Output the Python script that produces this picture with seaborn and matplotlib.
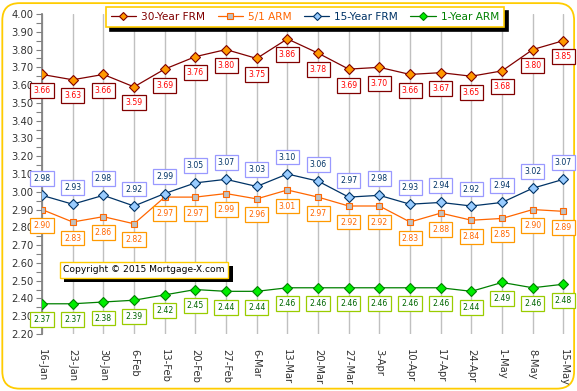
import matplotlib
matplotlib.use('Agg')
import matplotlib.pyplot as plt
import matplotlib.patheffects as pe
from matplotlib.patches import FancyBboxPatch
from matplotlib.ticker import MultipleLocator, FormatStrFormatter
import pandas as pd
import seaborn as sns

weeks = ['16-Jan', '23-Jan', '30-Jan', '6-Feb', '13-Feb', '20-Feb', '27-Feb', '6-Mar', '13-Mar',
         '20-Mar', '27-Mar', '3-Apr', '10-Apr', '17-Apr', '24-Apr', '1-May', '8-May', '15-May']
frm30 = [3.66, 3.63, 3.66, 3.59, 3.69, 3.76, 3.80, 3.75, 3.86, 3.78, 3.69, 3.70, 3.66, 3.67, 3.65, 3.68, 3.80, 3.85]
arm51 = [2.90, 2.83, 2.86, 2.82, 2.97, 2.97, 2.99, 2.96, 3.01, 2.97, 2.92, 2.92, 2.83, 2.88, 2.84, 2.85, 2.90, 2.89]
frm15 = [2.98, 2.93, 2.98, 2.92, 2.99, 3.05, 3.07, 3.03, 3.10, 3.06, 2.97, 2.98, 2.93, 2.94, 2.92, 2.94, 3.02, 3.07]
arm1 = [2.37, 2.37, 2.38, 2.39, 2.42, 2.45, 2.44, 2.44, 2.46, 2.46, 2.46, 2.46, 2.46, 2.46, 2.44, 2.49, 2.46, 2.48]

df = pd.DataFrame({'week': weeks, '30-Year FRM': frm30, '5/1 ARM': arm51,
                   '15-Year FRM': frm15, '1-Year ARM': arm1})

sns.set_theme(style="white")
plt.rcParams['font.family'] = ['DejaVu Sans']

# series: (name, line colour, marker, marker face, label edge, label text, legend text, label offset px)
series = [
    ('30-Year FRM', '#800000', 'D', '#FF9900', '#800000', '#FF0000', '#800000', -16),
    ('5/1 ARM', '#FF6600', 's', '#C0C0C0', '#FF9900', '#FF6600', '#FF6600', -16),
    ('15-Year FRM', '#003366', 'D', '#99CCFF', '#9999FF', '#003366', '#003366', 17),
    ('1-Year ARM', '#008000', 'D', '#00EE00', '#99CC00', '#006600', '#008000', -16),
]

fig = plt.figure(figsize=(5.77, 3.91), dpi=100)
ax = fig.add_axes([42 / 577, 1 - 334 / 391, 526 / 577, 320 / 391])
ax.set_facecolor('none')

border = FancyBboxPatch((0.004, 0.006), 0.991, 0.986, transform=fig.transFigure,
                        boxstyle='round,pad=0,rounding_size=0.03', mutation_aspect=577 / 391,
                        facecolor='none', edgecolor='#FFCC00', linewidth=1.3, zorder=-5)
fig.patches.append(border)

for name, lc, mk, mf, bec, tc, legc, off in series:
    sns.lineplot(data=df, x='week', y=name, ax=ax, color=lc, linewidth=0.9,
                 marker=mk, markersize=5.5 if mk == 'D' else 5, markerfacecolor=mf,
                 markeredgecolor=lc, markeredgewidth=0.8, label=name, zorder=3)
    for i, v in enumerate(df[name]):
        ax.annotate(f"{v:.2f}", (i, v), xytext=(0, off * 0.72), textcoords='offset points',
                    ha='center', va='center', fontsize=5.6, color=tc, zorder=4,
                    bbox=dict(boxstyle='square,pad=0.38', fc='white', ec=bec, lw=0.9))

ax.set_xlim(0, 17.15)
ax.set_ylim(2.2, 4.0)
ax.yaxis.set_major_locator(MultipleLocator(0.1))
ax.yaxis.set_minor_locator(MultipleLocator(0.05))
ax.yaxis.set_major_formatter(FormatStrFormatter('%.2f'))
ax.set_xlabel('')
ax.set_ylabel('')
for s in ['top', 'right', 'bottom']:
    ax.spines[s].set_visible(False)
ax.spines['left'].set_color('#808080')
ax.tick_params(axis='y', which='both', left=True, direction='out', length=4, width=0.8,
               color='#808080', labelsize=7.2, pad=2, labelcolor='#333333')
ax.tick_params(axis='x', bottom=False, labelsize=7.2, pad=5, labelcolor='#333333')
ax.set_xticks(range(len(weeks)))
ax.set_xticklabels(weeks, rotation=270, va='top', ha='center')
ax.grid(axis='x', color='#C0C0C0', linewidth=1, zorder=0)
ax.set_axisbelow(True)

ax.get_legend().remove()
handles, labels = ax.get_legend_handles_labels()
leg = fig.legend(handles, labels, loc='center', bbox_to_anchor=(305 / 577, 1 - 17 / 391), ncol=4,
                 fontsize=7.6, frameon=True, fancybox=False, handlelength=2.4, columnspacing=1.15,
                 handletextpad=0.5, borderpad=0.45, markerscale=0.75,
                 shadow={'color': 'black', 'alpha': 1, 'ox': 3, 'oy': -3})
leg.get_frame().set_edgecolor('#FFCC00')
leg.get_frame().set_linewidth(1.2)
for txt, s in zip(leg.get_texts(), series):
    txt.set_color(s[6])

cp = fig.text(144 / 577, 1 - 270 / 391, 'Copyright \u00a9 2015 Mortgage-X.com', ha='center', va='center',
              fontsize=6.6, color='black',
              bbox=dict(boxstyle='square,pad=0.4', fc='white', ec='#FFCC00', lw=1))
cp.get_bbox_patch().set_path_effects([pe.withSimplePatchShadow(offset=(3, -3), shadow_rgbFace='black', alpha=1)])

fig.savefig('out.png', dpi=100)
